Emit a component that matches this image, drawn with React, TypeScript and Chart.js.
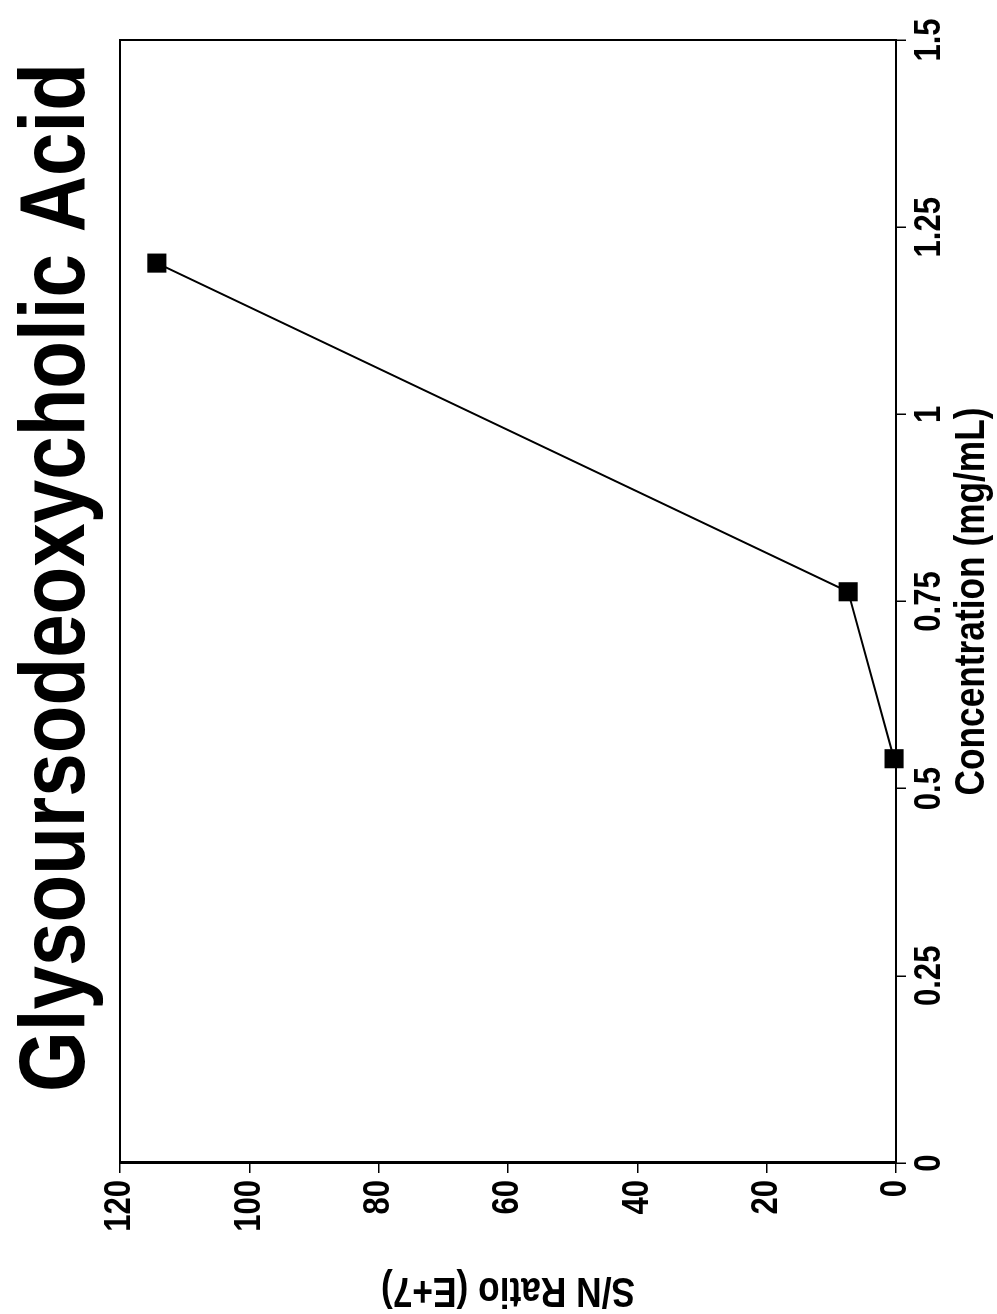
import React, { useEffect, useRef } from 'react';
import { Chart, registerables } from 'chart.js';

Chart.register(...registerables);

const TITLE = 'Glysoursodeoxycholic Acid';
const X_TITLE = 'Concentration (mg/mL)';
const Y_TITLE = 'S/N Ratio (E+7)';

const concentration = [0.54, 0.763, 1.202];
const snRatio = [0.3, 7.4, 114.3];

const xTickValues = [0, 0.25, 0.5, 0.75, 1, 1.25, 1.5];
const xTickLabels = ['0', '0.25', '0.5', '0.75', '1', '1.25', '1.5'];
const yTickValues = [0, 20, 40, 60, 80, 100, 120];
const yTickLabels = ['0', '20', '40', '60', '80', '100', '120'];

const CANVAS_W = 1314;
const CANVAS_H = 997;
const FONT = "'Liberation Sans', Arial, Helvetica, sans-serif";
// the original lettering is a condensed Helvetica; text is drawn horizontally narrowed
const CONDENSE = 0.84;

const frameBorder = {
  id: 'frameBorder',
  beforeDatasetsDraw(chart: any) {
    const { ctx, chartArea: a } = chart;
    ctx.save();
    ctx.strokeStyle = '#000';
    ctx.lineWidth = 2;
    ctx.strokeRect(a.left, a.top, a.right - a.left, a.bottom - a.top);
    ctx.restore();
  },
};

const bigTitle = {
  id: 'bigTitle',
  afterDraw(chart: any) {
    const { ctx, chartArea: a } = chart;
    ctx.save();
    ctx.fillStyle = '#000';
    ctx.font = `bold 93px ${FONT}`;
    ctx.textAlign = 'center';
    ctx.textBaseline = 'alphabetic';
    ctx.fillText(TITLE, (a.left + a.right) / 2 + 24, 84);
    ctx.restore();
  },
};

export default function App() {
  const ref = useRef<HTMLCanvasElement | null>(null);

  useEffect(() => {
    const canvas = ref.current;
    if (!canvas) return;
    const c2d: any = canvas.getContext('2d');
    const origFill = c2d.fillText.bind(c2d);
    c2d.fillText = function (text: string, x: number, y: number, maxWidth?: number) {
      c2d.save();
      c2d.translate(x, y);
      c2d.scale(CONDENSE, 1);
      if (maxWidth !== undefined && maxWidth !== null) origFill(text, 0, 0, maxWidth / CONDENSE);
      else origFill(text, 0, 0);
      c2d.restore();
    };

    const points = concentration.map((c, i) => ({ x: c, y: snRatio[i] }));
    const chart = new Chart(canvas, {
      type: 'scatter',
      data: {
        datasets: [
          {
            data: points,
            showLine: true,
            borderColor: '#000',
            borderWidth: 2,
            backgroundColor: '#000',
            pointStyle: 'rect',
            pointRadius: 13.5,
            pointBorderWidth: 0,
            clip: false as any,
          },
        ],
      },
      options: {
        responsive: false,
        animation: false,
        devicePixelRatio: 1,
        layout: { padding: { top: 120, right: 40, bottom: 0, left: 0 } },
        plugins: {
          legend: { display: false },
          tooltip: { enabled: false },
          title: { display: false },
        },
        scales: {
          x: {
            type: 'linear',
            min: 0,
            max: 1.5,
            afterBuildTicks: (s: any) => {
              s.ticks = xTickValues.map((v) => ({ value: v }));
            },
            afterFit: (s: any) => {
              s.height = 101;
            },
            ticks: {
              autoSkip: false,
              maxRotation: 0,
              minRotation: 0,
              padding: 2,
              color: '#000',
              font: { family: FONT, size: 37, weight: 'bold' },
              callback: (v: any) => {
                const i = xTickValues.indexOf(Number(v));
                return i >= 0 ? xTickLabels[i] : '';
              },
            },
            grid: {
              drawOnChartArea: false,
              drawTicks: true,
              tickLength: 10,
              color: '#000',
              lineWidth: 1.5,
            },
            border: { display: true, color: '#000', width: 2 },
            title: {
              display: true,
              text: X_TITLE,
              color: '#000',
              font: { family: FONT, size: 42, weight: 'bold', lineHeight: 1 },
              padding: { top: 0, bottom: 4 },
            },
          },
          y: {
            type: 'linear',
            min: 0,
            max: 120,
            afterBuildTicks: (s: any) => {
              s.ticks = yTickValues.map((v) => ({ value: v }));
            },
            afterFit: (s: any) => {
              s.width = 151;
            },
            ticks: {
              autoSkip: false,
              padding: 7,
              color: '#000',
              font: { family: FONT, size: 37, weight: 'bold' },
              callback: (v: any) => {
                const i = yTickValues.indexOf(Number(v));
                return i >= 0 ? yTickLabels[i] : '';
              },
            },
            grid: {
              drawOnChartArea: false,
              drawTicks: true,
              tickLength: 10,
              color: '#000',
              lineWidth: 1.5,
            },
            border: { display: true, color: '#000', width: 3 },
            title: {
              display: true,
              text: Y_TITLE,
              color: '#000',
              font: { family: FONT, size: 42, weight: 'bold', lineHeight: 1 },
              padding: { top: 3, bottom: 0 },
            },
          },
        },
      },
      plugins: [frameBorder, bigTitle],
    } as any);
    return () => chart.destroy();
  }, []);

  return (
    <div
      style={{
        position: 'absolute',
        left: 0,
        top: 0,
        width: 997,
        height: 1314,
        overflow: 'hidden',
        background: '#fff',
      }}
    >
      <div
        style={{
          position: 'absolute',
          left: 0,
          top: 0,
          width: CANVAS_W,
          height: CANVAS_H,
          transformOrigin: '0 0',
          transform: `translate(0px, ${CANVAS_W}px) rotate(-90deg)`,
        }}
      >
        <canvas ref={ref} width={CANVAS_W} height={CANVAS_H} style={{ display: 'block' }} />
      </div>
    </div>
  );
}
